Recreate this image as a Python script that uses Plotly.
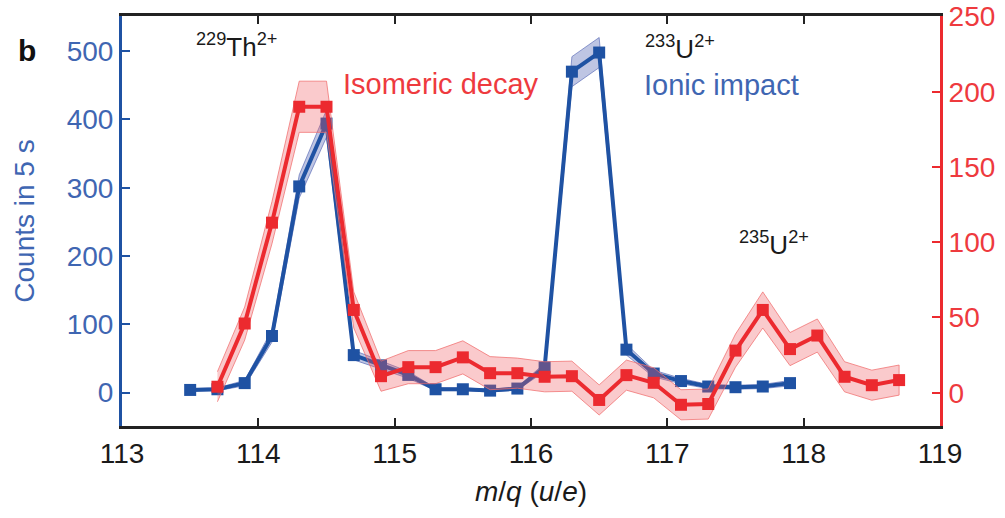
import plotly.graph_objects as go

# Ionic impact counts (left axis), in 5 s
ion_mq = [113.5, 113.7, 113.9, 114.1, 114.3, 114.5, 114.7, 114.9, 115.1, 115.3, 115.5, 115.7,
          115.9, 116.1, 116.3, 116.5, 116.7, 116.9, 117.1, 117.3, 117.5, 117.7, 117.9]
ion_counts = [4, 5, 14, 83, 302, 394, 55, 40, 26, 5, 5, 3,
              6, 37, 470, 498, 63, 28, 17, 9, 8, 9, 14]
ion_err = [2, 2, 4, 9, 17, 20, 7, 6, 5, 2, 2, 2,
           2, 6, 22, 22, 8, 5, 4, 3, 3, 3, 4]

# Isomeric decay counts (right axis)
iso_mq = [113.7, 113.9, 114.1, 114.3, 114.5, 114.7, 114.9, 115.1, 115.3, 115.5, 115.7, 115.9, 116.1,
          116.3, 116.5, 116.7, 116.9, 117.1, 117.3, 117.5, 117.7, 117.9, 118.1, 118.3, 118.5, 118.7]
iso_counts = [4, 46, 113, 190, 190, 55, 11, 17, 17, 23.5, 13, 13, 10.6,
              11, -4.8, 11.7, 6.6, -8, -7.5, 28, 55, 29, 38, 10.6, 5, 8.4]
iso_err = [10, 11, 14, 17, 17, 12, 10, 11, 11, 11, 11, 10, 10,
           10, 10, 10, 10, 10, 10, 11, 12, 11, 11, 10, 10, 10]

x_ticks = [113, 114, 115, 116, 117, 118, 119]
left_ticks = [0, 100, 200, 300, 400, 500]
right_ticks = [0, 50, 100, 150, 200, 250]

BLUE = "#1f52a3"
BLUE_TXT = "#3f66b2"
RED = "#ec2a2f"
RED_TXT = "#ee3a3e"
FONT = "Liberation Sans, Arial, Helvetica, sans-serif"


def band(xs, ys, es):
    upper = [y + e for y, e in zip(ys, es)]
    lower = [y - e for y, e in zip(ys, es)]
    return xs + xs[::-1], upper + lower[::-1]


fig = go.Figure()

bx, by = band(ion_mq, ion_counts, ion_err)
fig.add_trace(go.Scatter(x=bx, y=by, fill="toself", mode="lines",
                         line=dict(color="rgba(60,80,170,0.55)", width=1),
                         fillcolor="rgba(70,90,175,0.35)", hoverinfo="skip",
                         showlegend=False, yaxis="y"))
fig.add_trace(go.Scatter(x=ion_mq, y=ion_counts, mode="lines+markers",
                         line=dict(color=BLUE, width=4),
                         marker=dict(symbol="square", size=12, color=BLUE),
                         name="Ionic impact", showlegend=False, yaxis="y"))

rx, ry = band(iso_mq, iso_counts, iso_err)
fig.add_trace(go.Scatter(x=rx, y=ry, fill="toself", mode="lines",
                         line=dict(color="rgba(240,110,110,0.75)", width=1),
                         fillcolor="rgba(240,90,95,0.32)", hoverinfo="skip",
                         showlegend=False, yaxis="y2"))
fig.add_trace(go.Scatter(x=iso_mq, y=iso_counts, mode="lines+markers",
                         line=dict(color=RED, width=4),
                         marker=dict(symbol="square", size=12, color=RED),
                         name="Isomeric decay", showlegend=False, yaxis="y2"))

ann_font = dict(family=FONT, size=26, color="#1a1a1a")
annotations = [
    dict(x=113.84, y=509, xref="x", yref="y", text="<sup>229</sup>Th<sup>2+</sup>",
         showarrow=False, font=ann_font),
    dict(x=117.09, y=506, xref="x", yref="y", text="<sup>233</sup>U<sup>2+</sup>",
         showarrow=False, font=ann_font),
    dict(x=117.78, y=219, xref="x", yref="y", text="<sup>235</sup>U<sup>2+</sup>",
         showarrow=False, font=ann_font),
    dict(x=115.34, y=452, xref="x", yref="y", text="Isomeric decay",
         showarrow=False, font=dict(family=FONT, size=29, color=RED_TXT)),
    dict(x=117.40, y=450, xref="x", yref="y", text="Ionic impact",
         showarrow=False, font=dict(family=FONT, size=29, color=BLUE_TXT)),
    dict(x=-0.13, y=0.96, xref="paper", yref="paper", text="<b>b</b>",
         showarrow=False, font=dict(family=FONT, size=30, color="#111111")),
]

fig.update_layout(
    width=1005, height=518,
    margin=dict(l=122, r=65, t=16, b=92, autoexpand=False),
    paper_bgcolor="white", plot_bgcolor="white",
    font=dict(family=FONT),
    annotations=annotations,
    xaxis=dict(range=[113, 119], tickvals=x_ticks, ticks="inside", ticklen=8, tickwidth=2,
               tickcolor="#222222", showline=True, linecolor="#222222", linewidth=3,
               mirror="ticks", showgrid=False, zeroline=False, automargin=False,
               tickfont=dict(family=FONT, size=28, color="#1a1a1a"),
               title=dict(text="<i>m</i>/<i>q</i> (<i>u</i>/<i>e</i>)", standoff=14,
                          font=dict(family=FONT, size=28, color="#1a1a1a"))),
    yaxis=dict(range=[-48.8, 551.5], tickvals=left_ticks, ticks="inside", ticklen=8,
               tickwidth=2, tickcolor=BLUE, showline=True, linecolor=BLUE, linewidth=3,
               showgrid=False, zeroline=False, automargin=False,
               tickfont=dict(family=FONT, size=28, color=BLUE_TXT),
               title=dict(text="Counts in 5 s", standoff=24,
                          font=dict(family=FONT, size=28, color=BLUE_TXT))),
    yaxis2=dict(range=[-22.1, 250.3], tickvals=right_ticks, ticks="inside", ticklen=8,
                tickwidth=2, tickcolor=RED, showline=True, linecolor=RED, linewidth=3,
                overlaying="y", side="right", showgrid=False, zeroline=False,
                automargin=False,
                tickfont=dict(family=FONT, size=28, color=RED_TXT)),
)

fig.write_html("out.html")
